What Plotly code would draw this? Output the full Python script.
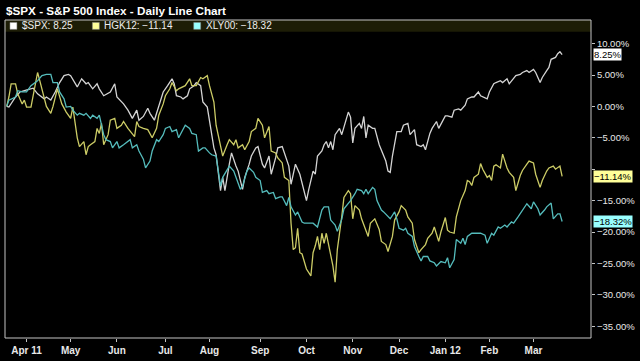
import plotly.graph_objects as go

# x = trading session number counted from 1 Apr 2011 (session 0)
spx_x = [-9,-8,-5,-3,-1,2,3,5,8,9,11,13,15,17,19,20,22,23,25,27,28,30,32,33,35,38,40,41,44,46,48,50,51,53,55,56,58,60,62,64,66,67,68,70,71,73,74,76,77,79,80,82,83,85,86,88,89,90,92,93,95,96,98,99,101,102,104,105,107,108,110,111,113,114,116,117,
         119,120,122,124,127,128,130,131,132,134,135,136,137,138,139,140,142,143,146,147,148,149,151,152,153,154,155,157,158,160,161,163,164,165,166,168,170,171,173,174,176,177,179,180,181,183,184,
         186,187,188,190,191,193,194,196,197,199,200,202,203,205,206,209,210,212,213,215,216,218,219,221,222,224,225,227,228,230,231,233,234,236,237,238,240,241,242,243]
spx_y = [0,-0.1,1.5,2.3,2.5,2.8,2.9,2.0,1.2,1.5,1.0,2.3,3.8,4.9,5.1,4.9,3.8,3.1,4.4,3.6,3.8,2.8,3.6,2.8,1.7,2.3,3.6,1.5,0.4,-0.6,-1.9,-0.6,-2.2,-1.6,-0.3,-1.1,-2.2,0.2,2.3,3.3,4.4,3.6,1.7,1.5,1.2,1.7,2.8,3.3,3.8,3.3,0.7,-0.1,-2.4,-6.6,-7.7,-13.4,-11.3,-13.4,-9.2,-7.4,-9.5,-10.3,-13.2,-11.3,-9.2,-7.9,-6.6,-6.4,-9.2,-9.8,-7.9,-10.8,-8.2,-6.6,-6.4,-7.4,
         -9.5,-12.4,-9.2,-10.8,-15.0,-13.3,-10.3,-10.8,-7.9,-7.1,-6.1,-5.6,-6.6,-5.6,-6.9,-4.5,-3.5,-4.5,-0.9,-1.7,-5.8,-3.5,-2.7,-3.5,-1.6,-5.0,-3.0,-3.5,-3.5,-6.1,-6.9,-8.7,-10.3,-10.5,-7.9,-4.0,-4.0,-3.0,-2.7,-4.5,-3.7,-6.1,-6.4,-6.1,-6.9,-4.3,-3.5,
         -2.4,-3.5,-2.8,-1.5,-1.5,-1.7,-0.6,-0.4,-0.6,0.2,1.2,1.5,1.5,2.3,1.7,1.2,2.3,3.6,3.8,4.1,3.8,4.4,3.6,4.6,4.9,5.1,5.4,5.7,5.4,5.9,5.4,3.8,4.6,5.7,6.2,7.5,7.8,8.4,8.7,8.25]

hg_x = [-9,-8,-7,-5,-4,-2,-1,0,2,3,5,6,8,9,11,12,14,15,16,18,20,21,23,24,26,27,28,29,31,32,33,34,35,37,38,40,41,43,44,46,47,49,50,51,53,55,57,59,60,62,63,65,66,68,69,71,72,74,75,77,79,80,82,83,85,86,88,89,91,92,94,95,96,98,99,101,102,104,105,107,108,110,111,113,114,116,117,
        119,120,121,122,123,124,125,127,128,129,130,131,132,133,134,135,136,137,139,140,141,143,144,146,147,148,149,151,152,155,156,158,160,161,163,164,166,167,169,170,172,173,175,176,178,179,181,182,184,185,
        187,188,190,191,192,194,195,197,199,200,201,202,203,205,206,207,209,210,211,212,213,215,216,218,219,221,222,224,225,227,228,230,231,233,234,236,237,239,240,242,243]
hg_y = [0,1.5,3.6,3.6,2.0,0.4,1.0,-0.1,-0.1,1.7,5.4,4.1,1.5,0,-1.1,0,2.8,1.5,0.4,-0.9,-1.9,-0.1,-5.0,-6.4,-5.6,-7.7,-6.4,-6.1,-5.6,-3.5,-4.3,-2.7,-6.1,-4.5,-2.2,-1.9,-3.5,-3.0,-2.4,-3.5,-4.0,-4.8,-2.4,-3.2,-3.5,-3.7,-5.0,-3.5,-1.4,0.4,1.7,2.8,3.8,2.5,2.8,3.1,3.3,4.4,3.3,3.3,4.6,4.4,4.9,3.3,0.7,-3.0,-6.1,-7.9,-6.1,-5.3,-6.1,-5.3,-6.6,-6.1,-6.9,-5.6,-4.0,-3.5,-1.9,-3.0,-5.0,-3.2,-7.1,-7.4,-8.2,-9.0,-11.3,
        -11.8,-18.6,-22.8,-22.5,-19.4,-23.3,-23.5,-25.9,-26.5,-27.0,-23.3,-22.2,-20.7,-22.8,-20.2,-21.8,-20.2,-21.8,-25.4,-28.0,-22.8,-17.6,-14.5,-13.4,-13.9,-17.9,-15.8,-16.5,-17.9,-20.7,-18.6,-17.9,-19.6,-21.5,-22.0,-23.1,-20.7,-18.1,-16.8,-15.8,-16.5,-17.6,-18.6,-21.2,-23.3,-22.8,-22.0,-21.0,-20.2,-19.2,
        -21.5,-20.0,-17.7,-19.7,-20.0,-20.2,-17.6,-15.0,-13.4,-11.8,-12.0,-12.6,-11.3,-10.8,-9.1,-10.0,-11.3,-11.0,-11.8,-9.5,-9.3,-9.8,-7.6,-9.8,-10.5,-11.3,-13.4,-11.0,-10.2,-9.2,-8.7,-9.0,-10.8,-12.9,-11.8,-10.3,-9.8,-9.5,-10.0,-9.5,-11.14]

xly_x = [-9,-8,-5,-4,-2,0,2,5,7,9,11,12,14,15,17,18,20,21,23,24,26,27,29,30,32,33,35,36,38,39,41,42,44,45,47,48,50,51,53,54,56,57,59,60,62,63,65,66,68,69,71,72,74,75,77,78,80,81,83,84,86,87,88,89,91,92,94,95,97,98,100,101,103,104,106,107,109,110,112,113,115,116,118,
         119,120,122,123,125,126,128,130,132,134,135,137,138,140,141,143,144,146,147,149,150,152,153,154,155,157,158,159,161,162,164,165,167,168,169,171,172,173,175,176,178,179,180,182,183,185,186,
         187,188,190,191,192,194,195,197,198,199,200,202,203,205,206,208,209,211,212,214,215,217,218,220,221,223,224,226,227,229,230,232,233,235,236,238,239,241,242,243]
xly_y = [0,1.0,1.5,2.5,2.3,2.3,3.3,4.1,4.9,5.1,5.1,3.8,3.8,2.3,1.2,-0.1,0,-0.6,-1.4,-1.1,-1.4,-1.1,-1.9,-1.4,-1.9,-1.4,-4.5,-5.3,-5.6,-6.6,-5.6,-6.6,-6.1,-5.8,-5.3,-6.6,-6.1,-7.1,-8.4,-9.8,-8.7,-7.1,-5.3,-5.6,-4.5,-3.5,-3.2,-4.0,-3.7,-5.0,-3.5,-3.0,-3.5,-4.3,-4.5,-7.1,-6.6,-6.6,-7.4,-7.7,-7.9,-10.3,-12.7,-11.3,-10.0,-9.5,-10.3,-11.3,-13.2,-12.7,-10.3,-9.8,-10.5,-11.3,-11.8,-13.7,-13.4,-13.9,-13.7,-14.7,-14.4,-14.4,-15.8,
         -14.5,-16.0,-17.3,-16.8,-18.4,-18.6,-18.6,-18.6,-19.2,-16.5,-16.0,-16.0,-18.1,-18.9,-19.9,-18.0,-16.3,-15.5,-15.0,-13.9,-13.2,-13.4,-13.9,-13.2,-13.9,-12.9,-13.2,-15.0,-16.5,-16.8,-17.6,-17.9,-16.8,-17.9,-19.4,-19.7,-19.4,-20.2,-20.7,-22.3,-23.9,-24.6,-23.9,-23.9,-24.6,-24.9,-25.4,
         -25.0,-24.7,-24.9,-24.1,-25.7,-24.4,-21.2,-21.8,-21.0,-22.0,-20.7,-20.2,-20.2,-20.2,-20.2,-20.5,-21.8,-20.2,-20.5,-19.2,-19.4,-18.9,-19.2,-18.4,-18.6,-17.6,-17.1,-16.0,-15.5,-16.3,-15.2,-16.3,-17.3,-16.5,-16.0,-15.4,-17.9,-17.1,-17.1,-18.32]

month_ticks = [0, 20, 41, 63, 83, 106, 127, 148, 169, 190, 210, 230]
month_labels = ["Apr 11", "May", "Jun", "Jul", "Aug", "Sep", "Oct", "Nov", "Dec", "Jan 12", "Feb", "Mar"]
pct_ticks = [10, 5, 0, -5, -10, -15, -20, -25, -30, -35]
pct_labels = ["10.00%", "5.00%", "0.00%", "\u22125.00%", "", "\u221215.00%", "\u221220.00%",
              "\u221225.00%", "\u221230.00%", "\u221235.00%"]

series_names = ["$SPX", "HGK12", "XLY00"]
last_values = [8.25, -11.14, -18.32]
line_colors = ["#d4d4d4", "#cccc66", "#55bcbc"]
box_colors = ["#ffffff", "#ffff99", "#99ffff"]

W, H = 640, 361
L, R, T, B = 5, 45, 20, 18
pw, ph = W - L - R, H - T - B
FONT = "Liberation Sans, Arial"


def px(x):
    return (x - L) / pw


def py(y):
    return (H - B - y) / ph


fig = go.Figure()
for xs, ys, c, n in zip([spx_x, hg_x, xly_x], [spx_y, hg_y, xly_y], line_colors, series_names):
    fig.add_trace(go.Scatter(x=xs, y=ys, mode="lines", name=n,
                             line=dict(color=c, width=1.3), showlegend=False,
                             hoverinfo="skip"))

shapes = [
    dict(type="rect", xref="paper", yref="paper", x0=0, x1=1, y0=py(32), y1=1,
         fillcolor="#1d1d06", line=dict(width=0), layer="below"),
    dict(type="rect", xref="paper", yref="paper", x0=0, x1=1, y0=0, y1=1,
         line=dict(color="#c4c4c4", width=1), layer="above"),
]
annotations = [
    dict(text="<b>$SPX - S&amp;P 500 Index - Daily Line Chart</b>", xref="paper", yref="paper",
         x=px(4), y=py(10), xanchor="left", yanchor="middle", showarrow=False,
         font=dict(family=FONT, size=11.7, color="#ffffff")),
]
sq_x = [10, 93, 195]
txt_x = [20, 103, 205]
for i in range(3):
    shapes.append(dict(type="rect", xref="paper", yref="paper",
                       x0=px(sq_x[i]), x1=px(sq_x[i] + 7), y0=py(29.5), y1=py(22.5),
                       fillcolor=box_colors[i], line=dict(color="#888888", width=0.5)))
    val = f"{last_values[i]:.2f}".replace("-", "\u2212")
    annotations.append(dict(text=f"{series_names[i]}: {val}", xref="paper", yref="paper",
                            x=px(txt_x[i]), y=py(26), xanchor="left", yanchor="middle",
                            showarrow=False,
                            font=dict(family=FONT, size=10, color="#eeeeee")))
    annotations.append(dict(text=f"{val}%", xref="paper", yref="y", x=1, y=last_values[i],
                            xanchor="left", yanchor="middle", xshift=2, showarrow=False,
                            bgcolor=box_colors[i], borderpad=0,
                            font=dict(family=FONT, size=9.5, color="#000000")))

fig.update_layout(
    width=W, height=H,
    margin=dict(l=L, r=R, t=T, b=B),
    paper_bgcolor="#000000", plot_bgcolor="#000000",
    shapes=shapes, annotations=annotations,
    xaxis=dict(range=[-9.78, 256.1], tickvals=month_ticks, ticktext=month_labels,
               showgrid=False, zeroline=False, ticks="outside", ticklen=3, tickcolor="#c4c4c4",
               tickfont=dict(family=FONT, size=10, color="#e8e8e8", weight="bold"),
               showline=False),
    yaxis=dict(range=[-36.88, 13.76], side="right", tickvals=pct_ticks, ticktext=pct_labels,
               showgrid=False, zeroline=False, ticks="outside", ticklen=3, tickcolor="#c4c4c4",
               tickfont=dict(family=FONT, size=9.5, color="#e8e8e8"),
               showline=False),
)

fig.write_html("out.html", config={"displayModeBar": False},
               post_script="document.body.style.margin='0';document.body.style.overflow='hidden';")
